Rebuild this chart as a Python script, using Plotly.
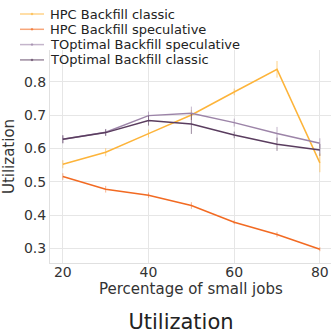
import plotly.graph_objects as go

x_vals = [20, 30, 40, 50, 60, 70, 80]

hpc_classic = [0.553, 0.589, 0.645, 0.701, 0.770, 0.838, 0.557]
hpc_classic_err = [0.012, 0.012, 0.012, 0.015, 0.010, 0.025, 0.028]

hpc_spec = [0.516, 0.478, 0.460, 0.429, 0.379, 0.342, 0.298]
hpc_spec_err = [0.010, 0.010, 0.008, 0.010, 0.006, 0.008, 0.006]

top_spec = [0.628, 0.649, 0.699, 0.706, 0.678, 0.645, 0.616]
top_spec_err = [0.012, 0.010, 0.012, 0.020, 0.012, 0.020, 0.015]

top_classic = [0.628, 0.648, 0.684, 0.674, 0.641, 0.613, 0.596]
top_classic_err = [0.012, 0.010, 0.015, 0.030, 0.010, 0.020, 0.018]

names = ["HPC Backfill classic", "HPC Backfill speculative",
         "TOptimal Backfill speculative", "TOptimal Backfill classic"]
colors = ["#fdb43a", "#f26a22", "#9c84a8", "#5a3d5f"]
err_colors = ["rgba(253,180,58,0.6)", "rgba(242,106,34,0.5)",
              "rgba(156,132,168,0.6)", "rgba(90,61,95,0.6)"]
legend_colors = ["rgba(253,180,58,0.6)", "rgba(242,106,34,0.6)",
                 "rgba(156,132,168,0.6)", "rgba(90,61,95,0.6)"]
series = [hpc_classic, hpc_spec, top_spec, top_classic]
errs = [hpc_classic_err, hpc_spec_err, top_spec_err, top_classic_err]

W, H = 331, 333
ML, MR, MT, MB = 50, 0, 50, 70
PW, PH = W - ML - MR, H - MT - MB

def px_x(px):
    return (px - ML) / PW

def px_y(py):
    return (H - MB - py) / PH

fig = go.Figure()
for n, c, ec, s, e in zip(names, colors, err_colors, series, errs):
    fig.add_trace(go.Scatter(
        x=x_vals, y=s, name=n, mode="lines",
        line=dict(color=c, width=1.5),
        error_y=dict(type="data", array=e, visible=True, color=ec,
                     thickness=1, width=0),
        showlegend=False,
    ))

# legend drawn as annotations + swatch lines (compact spacing like reference)
shapes = []
annotations = []
for i, (n, lc) in enumerate(zip(names, legend_colors)):
    cy = 14 + i * 15.3
    shapes.append(dict(type="line", xref="paper", yref="paper",
                       x0=px_x(20), x1=px_x(44), y0=px_y(cy), y1=px_y(cy),
                       line=dict(color=lc, width=1.5)))
    shapes.append(dict(type="circle", xref="paper", yref="paper",
                       x0=px_x(31), x1=px_x(33), y0=px_y(cy + 1), y1=px_y(cy - 1),
                       line=dict(color=lc, width=0.5), fillcolor=lc))
    annotations.append(dict(text=n, xref="paper", yref="paper",
                            x=px_x(48), y=px_y(cy), xanchor="left",
                            yanchor="middle", showarrow=False,
                            font=dict(size=13, color="#222222")))

# x-axis title placed precisely
annotations.append(dict(text="Percentage of small jobs", xref="paper", yref="paper",
                        x=0.5, y=px_y(289), xanchor="center", yanchor="middle",
                        showarrow=False, font=dict(size=15, color="#333333")))

font_family = "DejaVu Sans"
fig.update_layout(
    width=W, height=H,
    margin=dict(l=ML, r=MR, t=MT, b=MB, autoexpand=False),
    paper_bgcolor="white", plot_bgcolor="white",
    font=dict(family=font_family, color="#333333", size=15),
    title=dict(text="Utilization", x=181 / W, xref="container", xanchor="center",
               y=1 - 322 / H, yref="container", yanchor="middle",
               font=dict(size=21, color="#222222", family=font_family)),
    showlegend=False,
    shapes=shapes,
    annotations=annotations,
    xaxis=dict(range=[17, 82.6], tickvals=[20, 40, 60, 80],
               showgrid=True, gridcolor="#e6e6e6", gridwidth=1,
               zeroline=False, showline=True, linecolor="#e0e0e0",
               ticks="", tickfont=dict(size=14), ticklabelstandoff=-4),
    yaxis=dict(range=[0.2565, 0.896], tickvals=[0.3, 0.4, 0.5, 0.6, 0.7, 0.8],
               ticktext=["0.3", "0.4", "0.5", "0.6", "0.7", "0.8"],
               showgrid=True, gridcolor="#e6e6e6", gridwidth=1,
               zeroline=False, showline=True, linecolor="#e0e0e0",
               ticks="", tickfont=dict(size=14),
               title=dict(text="Utilization", font=dict(size=15), standoff=6)),
)

fig.write_html("out.html", config={"displayModeBar": False},
               post_script="document.body.style.margin='0px';document.body.style.overflow='hidden';")
